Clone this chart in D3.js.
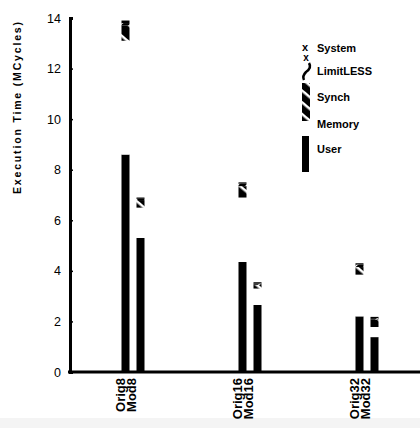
<!DOCTYPE html>
<html>
<head>
<meta charset="utf-8">
<script src="https://cdn.jsdelivr.net/npm/d3@7"></script>
<style>
body { margin: 0; background: #fff; }
svg { display: block; font-family: "Liberation Sans", Arial, sans-serif; }
</style>
</head>
<body>
<div id="chart"></div>
<script>
var width = 420;
var height = 428;

// data (MCycles)
var groups = ["8", "16", "32"];
var variants = ["Orig", "Mod"];
var categories = ["Orig8", "Mod8", "Orig16", "Mod16", "Orig32", "Mod32"];
var user      = [8.6, 5.3, 4.35, 2.65, 2.2, 1.38];
var memory    = [4.5, 1.2, 2.55, 0.65, 1.65, 0.4];
var synch     = [0.6, 0.3, 0.45, 0.15, 0.3, 0.3];
var limitless = [0.1, 0.05, 0.1, 0.05, 0.1, 0.05];
var system    = [0.1, 0.05, 0.05, 0.05, 0.05, 0.05];
var yTicks = [0, 2, 4, 6, 8, 10, 12, 14];
var seriesNames = ["User", "Memory", "Synch", "LimitLESS", "System"];

var root = d3.select("#chart").append("svg")
    .attr("width", width)
    .attr("height", height);

var defs = root.append("defs");
var hatch = defs.append("pattern")
    .attr("id", "hatch")
    .attr("patternUnits", "userSpaceOnUse")
    .attr("width", 13).attr("height", 13)
    .attr("patternTransform", "rotate(40)");
hatch.append("rect").attr("width", 13).attr("height", 13).attr("fill", "#000");
hatch.append("rect").attr("x", 0).attr("y", 0).attr("width", 13).attr("height", 2.5).attr("fill", "#fff");

var legHatch = defs.append("pattern")
    .attr("id", "leghatch")
    .attr("patternUnits", "userSpaceOnUse")
    .attr("width", 9).attr("height", 9)
    .attr("patternTransform", "rotate(40)");
legHatch.append("rect").attr("width", 9).attr("height", 9).attr("fill", "#000");
legHatch.append("rect").attr("width", 9).attr("height", 2.5).attr("fill", "#fff");

var squig = defs.append("pattern")
    .attr("id", "squig")
    .attr("patternUnits", "userSpaceOnUse")
    .attr("width", 6).attr("height", 6)
    .attr("patternTransform", "rotate(-40)");
squig.append("rect").attr("width", 6).attr("height", 6).attr("fill", "#000");
squig.append("rect").attr("width", 6).attr("height", 1).attr("fill", "#fff");

var fills = {
    "User": "#000",
    "Memory": "#fff",
    "Synch": "url(#hatch)",
    "LimitLESS": "url(#squig)",
    "System": "#000"
};

// faint grey strip at the foot of the scan
root.append("rect")
    .attr("x", 0).attr("y", 418)
    .attr("width", width).attr("height", 10)
    .attr("fill", "#f4f4f4");

var yScale = d3.scaleLinear()
    .domain([0, 14])
    .range([372, 18]);

var x0 = d3.scaleBand()
    .domain(groups)
    .range([74.5, 425.5]);

var x1 = d3.scaleBand()
    .domain(variants)
    .range([0, 23])
    .paddingInner(0.467);

function xPos(i) {
    var g = groups[Math.floor(i / 2)];
    var v = variants[i % 2];
    return x0(g) + x0.bandwidth() / 2 - 11.5 + x1(v);
}

var rows = categories.map(function(c, i) {
    return { cat: c, User: user[i], Memory: memory[i], Synch: synch[i], LimitLESS: limitless[i], System: system[i], idx: i };
});

var stack = d3.stack().keys(seriesNames);
var layers = stack(rows);

root.selectAll("g.layer")
    .data(layers)
  .enter().append("g")
    .attr("class", "layer")
    .attr("fill", function(d) { return fills[d.key]; })
  .selectAll("rect")
    .data(function(d) { return d; })
  .enter().append("rect")
    .attr("x", function(d) { return xPos(d.data.idx); })
    .attr("y", function(d) { return yScale(d[1]); })
    .attr("width", x1.bandwidth())
    .attr("height", function(d) { return yScale(d[0]) - yScale(d[1]); });

// y axis
var yAxis = d3.axisLeft(yScale)
    .tickValues(yTicks)
    .tickSize(-3)
    .tickPadding(9);

var gy = root.append("g")
    .attr("transform", "translate(70,0)")
    .call(yAxis);
gy.select(".domain").attr("stroke", "#000").attr("stroke-width", 3);
gy.selectAll(".tick line").attr("stroke", "#000").attr("stroke-width", 1.5);
gy.selectAll(".tick text")
    .attr("font-size", 12.5)
    .attr("font-family", "Liberation Sans, Arial, sans-serif")
    .attr("fill", "#000");

// x axis baseline
root.append("line")
    .attr("x1", 68).attr("x2", 420)
    .attr("y1", yScale(0)).attr("y2", yScale(0))
    .attr("stroke", "#000").attr("stroke-width", 3);

// category labels, rotated
root.selectAll("text.cat")
    .data(categories)
  .enter().append("text")
    .attr("class", "cat")
    .attr("transform", function(d, i) {
        var x = xPos(i) + x1.bandwidth() / 2 - 5 + (i % 2) * -4;
        return "translate(" + x + ",378) rotate(-90)";
    })
    .attr("text-anchor", "end")
    .attr("dy", "0.35em")
    .attr("font-size", 13)
    .attr("font-weight", "bold")
    .text(function(d) { return d; });

// axis title
root.append("text")
    .attr("transform", "translate(17,108) rotate(-90)")
    .attr("text-anchor", "middle")
    .attr("dy", "0.35em")
    .attr("font-size", 10.5)
    .attr("font-weight", "bold")
    .attr("textLength", 172)
    .attr("lengthAdjust", "spacing")
    .text("Execution Time (MCycles)");

// legend
var legendY = [48, 71, 97, 124, 149];
var legendNames = ["System", "LimitLESS", "Synch", "Memory", "User"];
root.selectAll("text.leg")
    .data(legendNames)
  .enter().append("text")
    .attr("class", "leg")
    .attr("x", 317)
    .attr("y", function(d, i) { return legendY[i]; })
    .attr("dy", "0.35em")
    .attr("font-size", 11)
    .attr("font-weight", "bold")
    .text(function(d) { return d; });

var lg = root.append("g");
lg.append("text").attr("x", 305).attr("y", 51).attr("text-anchor", "middle")
    .attr("font-size", 11).attr("font-weight", "bold").text("x");
lg.append("text").attr("x", 306).attr("y", 61).attr("text-anchor", "middle")
    .attr("font-size", 10).attr("font-weight", "bold").text("x");
lg.append("path")
    .attr("d", "M309,63 Q312,68 306,72 Q302,76 304,80")
    .attr("fill", "none").attr("stroke", "#000").attr("stroke-width", 2.5);
lg.append("rect")
    .attr("x", 302).attr("y", 83).attr("width", 8).attr("height", 38)
    .attr("fill", "url(#leghatch)");
lg.append("rect")
    .attr("x", 302).attr("y", 136).attr("width", 7).attr("height", 36)
    .attr("fill", "#000");
</script>
</body>
</html>
